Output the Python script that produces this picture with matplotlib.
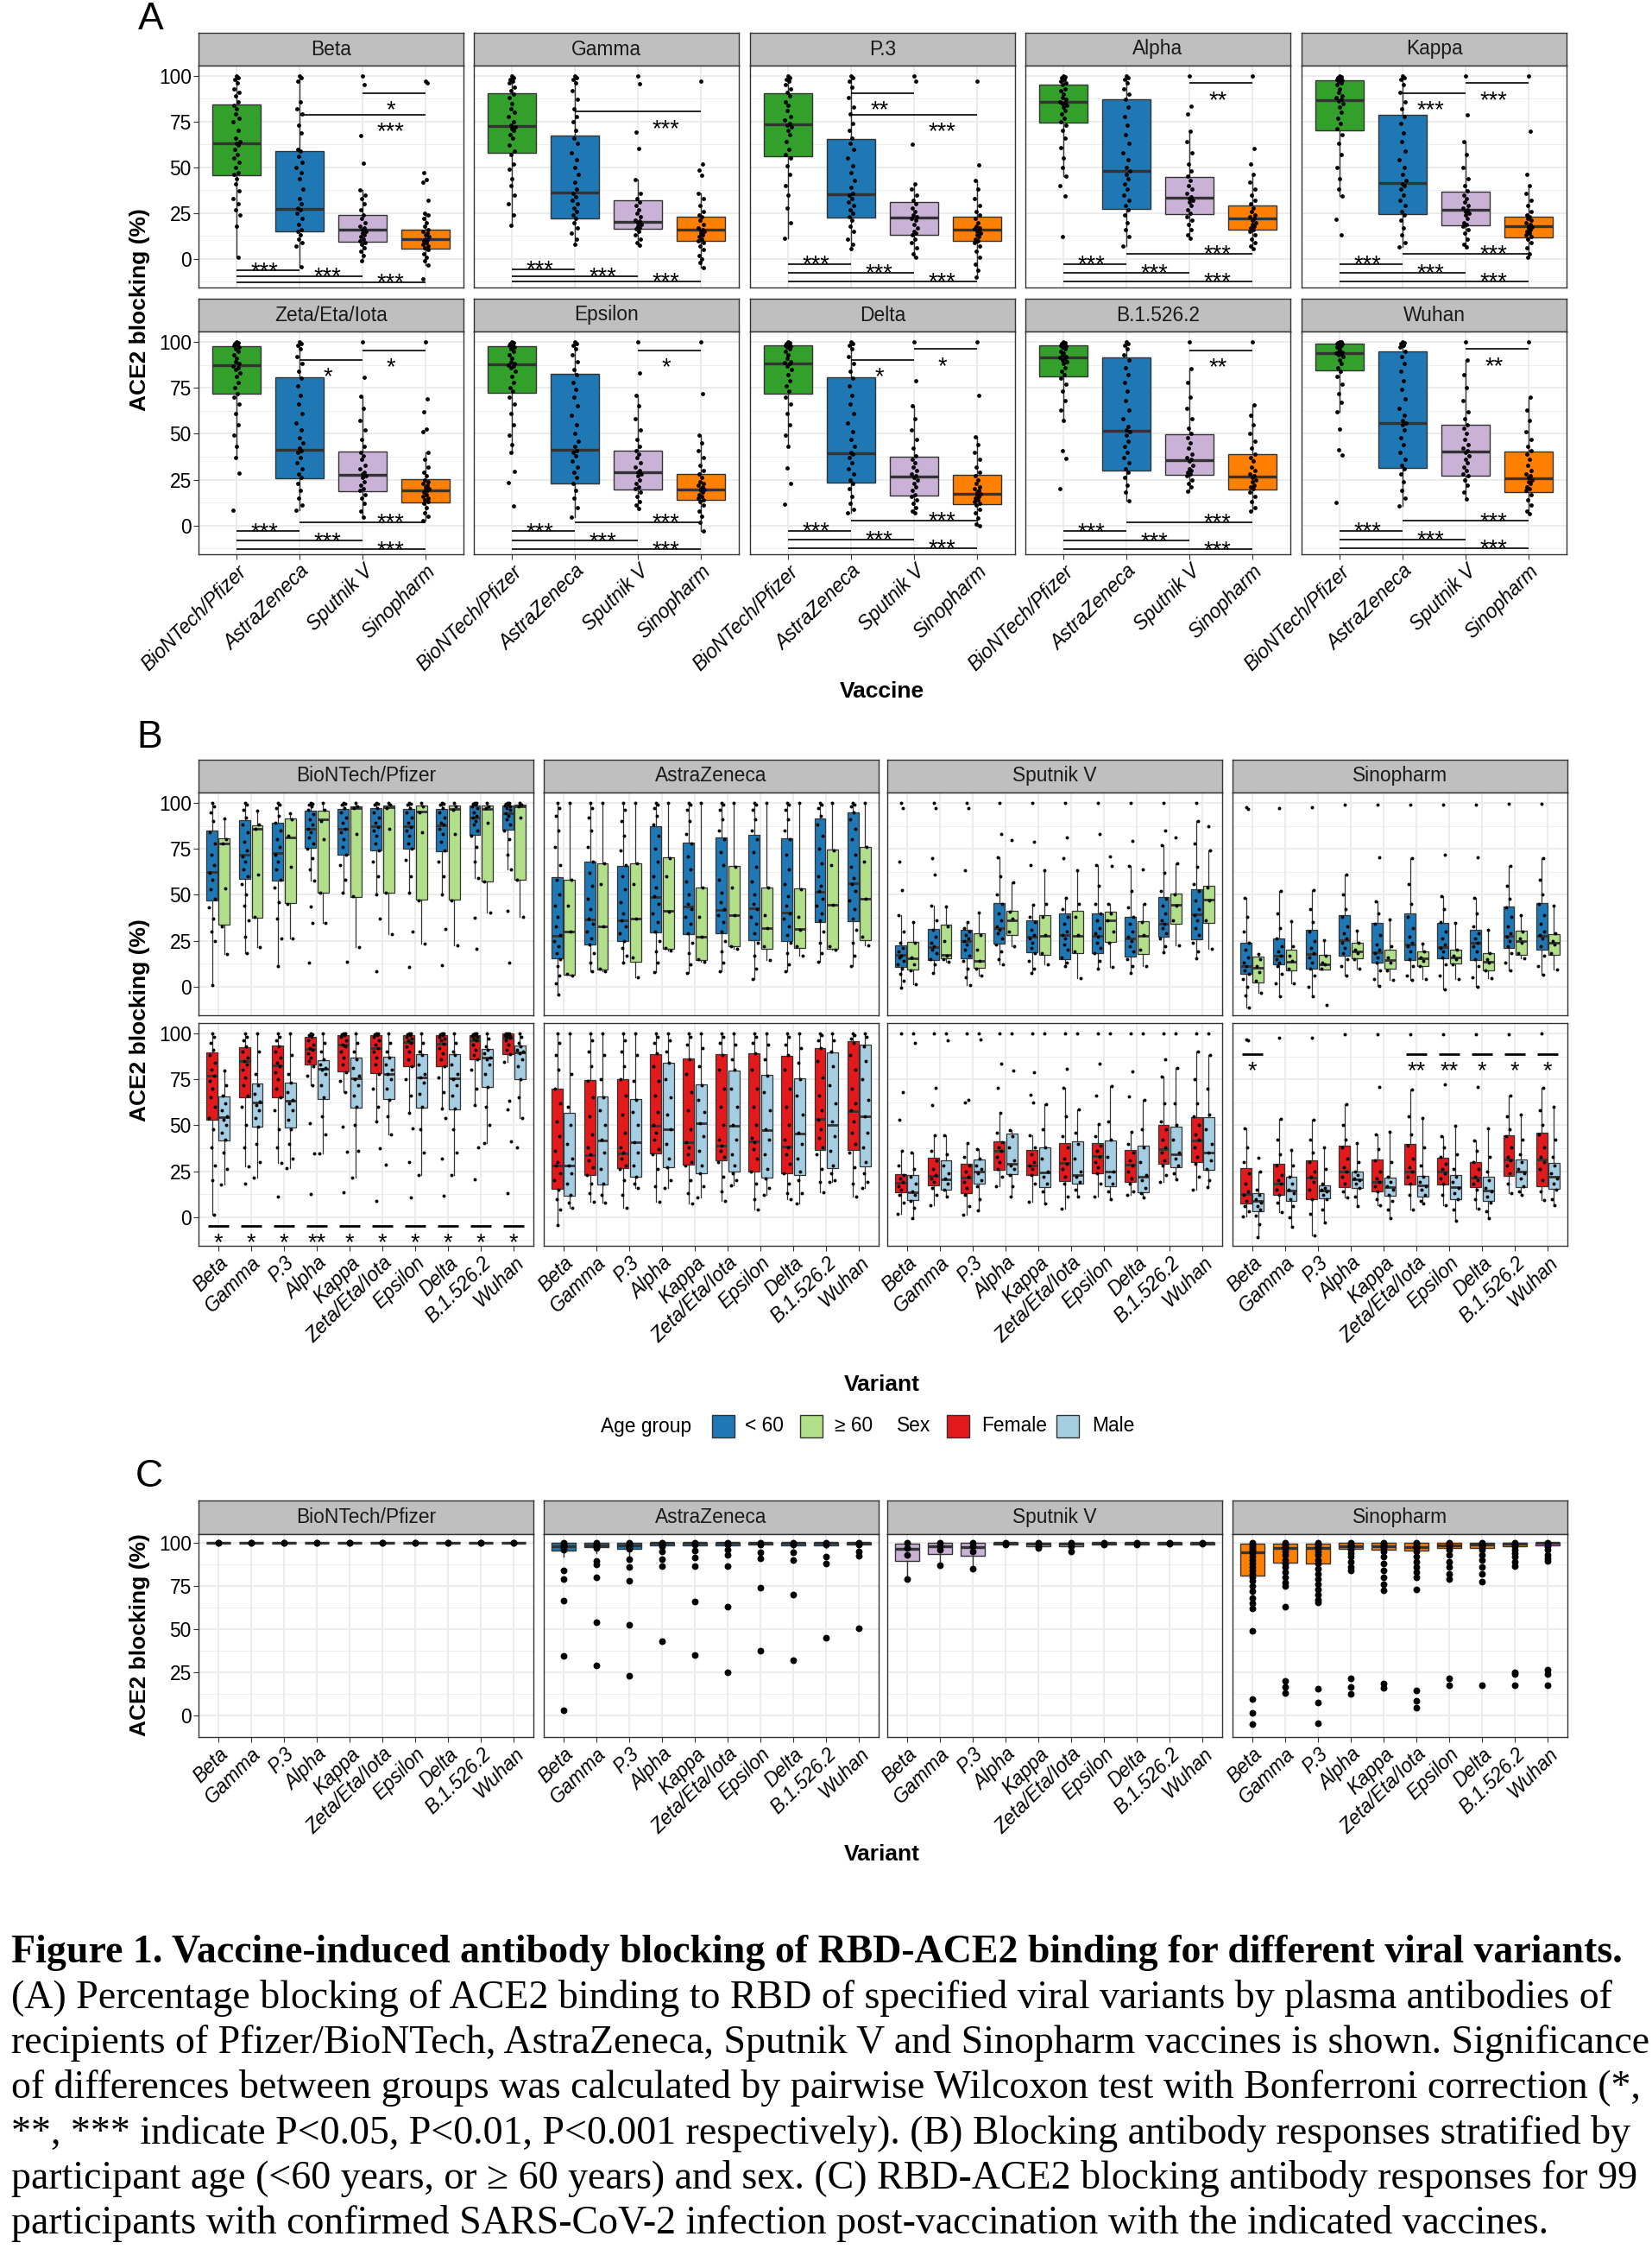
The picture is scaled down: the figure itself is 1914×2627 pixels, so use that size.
import matplotlib
matplotlib.use("Agg")
import matplotlib.pyplot as plt
from matplotlib.patches import Rectangle

plt.rcParams['font.family'] = ['Liberation Sans', 'DejaVu Sans']

W, H = 1914, 2627
EDGE = '#333333'
GRID = '#EBEBEB'
STRIP = '#BFBFBF'

VARIANTS = ["Beta", "Gamma", "P.3", "Alpha", "Kappa", "Zeta/Eta/Iota",
            "Epsilon", "Delta", "B.1.526.2", "Wuhan"]
VACCINES = ["BioNTech/Pfizer", "AstraZeneca", "Sputnik V", "Sinopharm"]
VACCINE_COLORS = ["#33A02C", "#1F78B4", "#CAB2D6", "#FF7F00"]
AGE_LABELS = ["< 60", "\u2265 60"]
AGE_COLORS = ["#1F78B4", "#B2DF8A"]
SEX_LABELS = ["Female", "Male"]
SEX_COLORS = ["#E31A1C", "#A6CEE3"]

# ---------------- Panel A: box stats [whislo, q1, median, q3, whishi] per vaccine
a_box_beta = [[1, 45.5, 63, 84.5, 100], [-4.4, 15.2, 27.5, 59, 100], [-0.8, 9.4, 16.2, 24.2, 37.7], [-3.3, 5.8, 10.8, 16, 25]]
a_box_gamma = [[18.4, 58.1, 72.7, 90.3, 100], [8.2, 22, 36.1, 67.5, 100], [7.4, 16.3, 20.4, 31.9, 43.2], [-4.7, 10, 16, 23.2, 36]]
a_box_p3 = [[11.3, 56, 73.3, 90.6, 100], [5.5, 22.4, 35.3, 65.5, 100], [1, 13.3, 22.4, 30.9, 40.8], [-9.8, 10, 16.2, 23.2, 43]]
a_box_alpha = [[45, 74.7, 85.6, 95.4, 100], [7.1, 27.3, 48.2, 87.4, 100], [11.3, 24.6, 33.4, 44.7, 69.9], [5.5, 16.2, 22, 29, 46.3]]
a_box_kappa = [[34.5, 70.3, 86.8, 97.8, 100], [6.6, 24.6, 41.6, 78.5, 100], [6.6, 18.5, 26.7, 36.9, 64], [0.8, 11.8, 17.7, 23.1, 40]]
a_box_zeta = [[37, 71.7, 87.1, 97.6, 100], [8.3, 25.7, 41.4, 80.8, 100], [4.4, 18.9, 27.7, 40.3, 70.6], [2.8, 12.8, 19.2, 25.4, 40]]
a_box_epsilon = [[39.8, 72.4, 87.6, 97.8, 100], [4.4, 23.1, 41.1, 82.4, 100], [9.1, 19.4, 28.8, 40.6, 70.9], [-2.7, 13.9, 19.7, 28.3, 49.3]]
a_box_delta = [[43, 71.8, 88.2, 98, 100], [6.8, 23.6, 39.4, 80.5, 100], [6.8, 16.5, 26.8, 37.5, 65], [-0.3, 11.5, 17.5, 27.6, 48.5]]
a_box_b1526 = [[57, 81.3, 91.3, 98, 100], [13.4, 29.9, 51.7, 91.3, 100], [18.6, 27.6, 35.6, 49.6, 85.5], [7.9, 19.7, 26.5, 38.7, 65.8]]
a_box_wuhan = [[62, 84.3, 93.9, 98.9, 100], [10.7, 31.2, 55.9, 94.6, 100], [14.3, 27.2, 40.3, 54.8, 90.2], [6.3, 18.3, 25.7, 40.2, 69.8]]

# Panel A: individual participants (read approx.)
a_pts_beta = [
    [100, 99, 98, 96, 93, 91, 89, 86, 84, 82, 79, 77, 75, 70, 66, 64, 63, 62, 60, 57, 55, 53, 50, 47, 46, 44, 41, 37, 33, 30, 27, 24, 18, 1],
    [100, 99, 97, 86, 82, 79, 73, 69, 60, 59, 56, 53, 50, 47, 44, 38, 33, 30, 28, 27, 25, 22, 19, 16, 15, 13, 11, 9, 7, -4.4],
    [100, 95, 67.5, 52.5, 37.7, 35, 33, 30, 27, 24, 22, 20, 18, 17, 16, 15, 14, 13, 12, 11, 10, 9, 8, 6, 4, 2, -0.8],
    [97, 96, 47, 43.5, 42, 32.2, 25, 24, 22, 20, 18, 16, 15, 14, 13, 12, 11, 10.5, 10, 9, 8, 7, 6, 5, 3, 1, -1, -3.3, -10.8]]
a_pts_gamma = [
    [100, 99, 98, 97, 96, 94, 92, 90, 88, 85, 82, 80, 78, 75, 73, 72, 71, 70, 68, 66, 62, 59, 57, 52, 49, 44, 40, 35, 30, 24, 18.4],
    [100, 99, 98, 96, 92, 87, 82, 78, 75, 70, 66, 63, 58, 54, 50, 46, 42, 38, 36, 34, 32, 30, 28, 26, 24, 22, 20, 17, 14, 11, 8.2],
    [100, 95.8, 69.2, 60.4, 43.2, 36, 33, 31, 29, 27, 25, 23, 21, 20.5, 20, 19, 18, 17, 16.5, 15, 13, 11, 9, 7.4],
    [97, 52, 48.7, 45.5, 36, 33, 29, 26, 24, 23, 21, 19, 17, 16, 15.5, 15, 14, 13, 12, 11, 10, 9, 7, 5, 2, 0, -2, -4.7]]
a_pts_p3 = [
    [100, 99, 98, 97, 95, 93, 91, 89, 86, 84, 81, 78, 76, 74, 73, 72, 70, 68, 64, 60, 57, 55, 51, 46, 40, 35, 28, 20, 11.3],
    [100, 99, 97, 94, 88, 83, 79, 74, 70, 66, 63, 60, 55, 51, 47, 43, 39, 36, 35, 33, 31, 29, 27, 25, 23, 21, 18, 15, 11, 8, 5.5],
    [100, 97, 62.8, 40.8, 38, 35, 32, 30, 28, 26, 24, 23, 22, 21, 19, 17, 15, 14, 13, 11, 9, 6, 3, 1],
    [97, 51.5, 43, 38, 33, 29, 26, 24, 22, 20, 18, 17, 16.5, 16, 15, 14, 13, 12, 11, 10, 9, 7, 4, 1, -3, -6, -9.8]]
a_pts_alpha = [
    [100, 99.5, 99, 98, 97, 96, 95, 93, 92, 90, 88, 87, 86, 85.5, 85, 84, 83, 81, 79, 77, 75, 73, 70, 66, 61, 55, 50, 45, 40, 34.5, 12.2],
    [100, 99, 98, 96, 93, 90, 87, 83, 78, 73, 68, 63, 58, 54, 50, 48, 46, 44, 41, 38, 35, 32, 29, 27, 24, 20, 16, 12, 7.1],
    [100, 83.2, 79.3, 69.9, 64, 58, 52, 48, 45, 43, 40, 38, 36, 34, 33, 32, 31, 29, 27, 25, 23, 21, 19, 16, 13, 11.3],
    [100, 60.4, 52, 46.3, 42, 38, 35, 32, 30, 28, 26, 24, 23, 22, 21, 20, 19, 18, 17, 16, 15, 13, 11, 9, 7, 5.5]]
a_pts_kappa = [
    [100, 99.5, 99, 98.5, 98, 97.5, 97, 96, 95, 93, 91, 89, 88, 87, 86.5, 85, 83, 80, 77, 74, 71, 68, 63, 57, 50, 44, 38, 34.5, 21.7, 13.3],
    [100, 99, 98, 95, 91, 86, 82, 78, 74, 69, 64, 59, 54, 50, 46, 43, 41, 40, 38, 35, 32, 29, 26, 24, 21, 17, 13, 9, 6.6],
    [100, 78.8, 64, 57, 50, 44, 40, 37, 35, 33, 31, 29, 28, 27, 26, 25, 24, 22, 20, 19, 18, 16, 14, 11, 8, 6.6],
    [100, 69.9, 46.3, 40, 36, 32, 29, 26, 24, 23, 22, 21, 20, 19, 18, 17.5, 17, 16, 15, 14, 13, 12, 11, 9, 6, 3, 0.8]]
a_pts_zeta = [
    [100, 99.5, 99, 98.5, 98, 97, 96, 95, 93, 91, 89, 88, 87, 86, 85, 83, 81, 78, 75, 72, 70, 66, 61, 55, 49, 43, 37, 28.7, 8.2],
    [100, 99, 98, 96, 92, 88, 84, 80, 76, 71, 66, 61, 56, 52, 48, 45, 42, 41, 40, 37, 34, 31, 28, 26, 23, 19, 15, 11, 8.3],
    [100, 80.8, 70.6, 64, 57, 52, 47, 43, 40, 38, 36, 33, 31, 29, 28, 27, 26, 24, 22, 20, 19, 17, 15, 12, 8, 4.4],
    [100, 69, 61.9, 52.4, 50.9, 40, 36, 32, 29, 27, 25, 24, 23, 22, 21, 20, 19.5, 19, 18, 17, 16, 15, 14, 13, 12, 10, 7, 5, 2.8]]
a_pts_epsilon = [
    [100, 99.5, 99, 98.5, 98, 97, 96, 95, 93, 91, 89, 88, 87.5, 87, 86, 84, 81, 78, 75, 73, 70, 66, 61, 55, 49, 44, 39.8, 29.6, 23.3, 10.7],
    [100, 99, 98, 96, 93, 89, 85, 82, 78, 74, 70, 65, 60, 55, 50, 46, 43, 41, 40, 38, 35, 32, 29, 26, 23, 19, 15, 10, 4.4],
    [100, 83.1, 70.9, 65, 58, 52, 47, 43, 41, 39, 37, 34, 32, 30, 29, 28, 27, 25, 23, 21, 20, 18, 16, 13, 11, 9.1],
    [100, 71.7, 49.3, 45, 41, 37, 33, 30, 28, 26, 24, 23, 22, 21, 20, 19.5, 19, 18, 17, 16, 15, 14, 13, 11, 8, 5, 2, -2.7]]
a_pts_delta = [
    [100, 99.5, 99, 98.5, 98, 97.5, 97, 96, 95, 93, 91, 89, 88.5, 88, 87, 85, 82, 79, 76, 73, 70, 66, 61, 55, 49, 43, 31.5, 23, 11.5],
    [100, 99, 98, 96, 92, 88, 84, 80, 76, 71, 66, 61, 56, 51, 47, 43, 40, 39, 37, 34, 31, 28, 25, 23, 20, 16, 12, 9, 6.8],
    [100, 78.7, 65, 58, 52, 47, 42, 38, 36, 34, 32, 30, 28, 27, 26, 25, 23, 21, 19, 17, 16, 14, 12, 10, 8, 6.8],
    [100, 70.9, 48.5, 44, 40, 36, 32, 29, 27, 25, 23, 21, 20, 19, 18, 17.5, 17, 16, 15, 14, 13, 12, 11, 9, 7, 4, 1, -0.3]]
a_pts_b1526 = [
    [100, 99.5, 99, 98.5, 98, 97.5, 97, 96, 95, 94, 93, 92, 91.5, 91, 90, 89, 88, 86, 84, 82, 80, 77, 73, 68, 63, 57, 41, 36.7, 20.2],
    [100, 99, 98, 96, 93, 90, 86, 82, 78, 73, 68, 63, 58, 54, 52, 51, 49, 46, 43, 40, 37, 34, 31, 29, 26, 22, 18, 13.4],
    [100, 85.5, 78, 70, 64, 58, 53, 50, 48, 45, 42, 39, 37, 36, 35, 33, 31, 30, 29, 28, 27, 25, 23, 21, 18.6],
    [100, 65.8, 60, 55, 50, 46, 42, 39, 37, 35, 32, 30, 28, 27, 26, 25, 24, 22, 21, 20, 18, 16, 13, 10, 7.9]]
a_pts_wuhan = [
    [100, 99.8, 99.5, 99.2, 99, 98.8, 98.5, 98, 97, 96, 95, 94.5, 94, 93.5, 93, 92, 90, 88, 86, 84, 81, 77, 72, 67, 62, 52.4, 41.4, 38.3, 12.8],
    [100, 99.5, 99, 98, 97, 95, 92, 88, 84, 79, 74, 69, 64, 60, 57, 56, 55, 52, 48, 44, 40, 36, 33, 31, 28, 24, 19, 15, 10.7],
    [100, 90.2, 82, 75, 68, 62, 58, 55, 53, 50, 47, 44, 42, 41, 40, 38, 36, 34, 32, 30, 28, 27, 25, 22, 18, 14.3],
    [100, 69.8, 63, 57, 51, 47, 43, 41, 39, 36, 33, 30, 28, 27, 26, 25, 24, 23, 21, 20, 19, 17, 14, 11, 8, 6.3]]

# Panel A: pairwise tests (group i, group j, bracket level, label)
a_sig_beta = [(2, 3, 90.6, "*"), (1, 3, 78.8, "***"), (0, 1, -6.3, "***"), (0, 2, -9.4, "***"), (0, 3, -12.6, "***")]
a_sig_gamma = [(1, 3, 80.4, "***"), (0, 1, -5.5, "***"), (0, 2, -9.4, "***"), (0, 3, -12.2, "***")]
a_sig_p3 = [(1, 2, 90.6, "**"), (1, 3, 78.8, "***"), (0, 1, -2.7, "***"), (0, 2, -7.5, "***"), (0, 3, -12.2, "***")]
a_sig_alpha = [(2, 3, 96, "**"), (1, 3, 2.7, "***"), (0, 1, -2.7, "***"), (0, 2, -7.5, "***"), (0, 3, -12.2, "***")]
a_sig_kappa = [(2, 3, 96, "***"), (1, 2, 90.6, "***"), (1, 3, 2.7, "***"), (0, 1, -2.7, "***"), (0, 2, -7.5, "***"), (0, 3, -12.2, "***")]
a_sig_zeta = [(2, 3, 95.3, "*"), (1, 2, 90.2, "*"), (1, 3, 2, "***"), (0, 1, -3.1, "***"), (0, 2, -8.2, "***"), (0, 3, -12.9, "***")]
a_sig_epsilon = [(2, 3, 95.3, "*"), (1, 3, 2, "***"), (0, 1, -3.1, "***"), (0, 2, -8.2, "***"), (0, 3, -12.9, "***")]
a_sig_delta = [(2, 3, 96, "*"), (1, 2, 90.2, "*"), (1, 3, 2.8, "***"), (0, 1, -2.7, "***"), (0, 2, -7.7, "***"), (0, 3, -12.4, "***")]
a_sig_b1526 = [(2, 3, 95.3, "**"), (1, 3, 2, "***"), (0, 1, -3.1, "***"), (0, 2, -8.2, "***"), (0, 3, -12.9, "***")]
a_sig_wuhan = [(2, 3, 96, "**"), (1, 3, 2.5, "***"), (0, 1, -2.7, "***"), (0, 2, -7.7, "***"), (0, 3, -12.4, "***")]

# ---------------- Panel B: per variant [group1 stats, group2 stats]
b_age_pfizer = [
    [[0.8, 47.1, 62.6, 85.1, 100], [17.6, 33.8, 78, 80.8, 91.7]],
    [[18, 58.4, 71.7, 90.6, 100], [21.5, 37.7, 85.9, 87.8, 95.6]],
    [[11.3, 57.6, 72.5, 89, 100], [26.2, 45.5, 81.2, 91.5, 94.5]],
    [[57.6, 75.7, 85.9, 95.8, 100], [34.9, 51.3, 91, 95.8, 100]],
    [[51, 71.7, 85.9, 96.9, 100], [21.5, 48.7, 97.3, 98.1, 100]],
    [[50, 74.1, 87.4, 97.3, 100], [28.6, 51.3, 97.6, 98.4, 100]],
    [[51, 75.2, 87.4, 96.9, 100], [23.4, 47.4, 95.3, 98.4, 100]],
    [[50, 73.8, 87.9, 96.9, 100], [22.3, 47.4, 96.9, 98.4, 100]],
    [[59, 82.7, 92.2, 98.4, 100], [40.3, 57.1, 96.9, 98.4, 100]],
    [[64, 85.4, 94.5, 98.7, 100], [38, 58.1, 98.1, 99.2, 100]]]
b_age_astrazeneca = [
    [[-4.4, 15.5, 27.8, 59.5, 100], [5.8, 6.6, 30.1, 58.1, 100]],
    [[8.2, 23.1, 36.4, 67.8, 100], [8.2, 9.3, 33, 67.3, 100]],
    [[12.9, 24.6, 35.9, 65.9, 100], [5, 13.3, 37.2, 67.3, 100]],
    [[7.8, 29.7, 48.7, 87.4, 100], [19.5, 20.4, 41.1, 70.6, 100]],
    [[7.4, 28.6, 43.8, 78.5, 100], [13.7, 14.4, 27, 54, 100]],
    [[8.5, 29, 41.9, 81.2, 100], [20.7, 22, 38.8, 65.5, 100]],
    [[4.2, 25.4, 42.7, 82.7, 100], [14.4, 20.7, 31.7, 54, 100]],
    [[8.2, 24.6, 40.3, 80.8, 100], [16.8, 21.2, 31.2, 53.4, 100]],
    [[13.7, 35.3, 51.8, 91.7, 100], [19.9, 20.4, 44.6, 74.6, 100]],
    [[11.3, 35.6, 56.5, 94.8, 100], [22.3, 25.4, 47.7, 76, 100]]]
b_age_sputnik = [
    [[-0.5, 10.5, 17.1, 22.6, 38.8], [1.4, 9.4, 15.5, 24.2, 35.3]],
    [[7.4, 14.4, 21.5, 31.2, 44], [13.7, 15.2, 17.1, 33.8, 43.8]],
    [[0.8, 15.5, 25, 30.9, 35.3], [6.1, 10.2, 14, 28.9, 40.3]],
    [[12.1, 23.4, 31.7, 45.4, 70.5], [21.8, 28.3, 36.1, 41.4, 56.8]],
    [[7.4, 18.7, 27, 35.9, 44.3], [12.1, 17.1, 27.8, 38.8, 63.1]],
    [[11.3, 14.9, 28.1, 39.6, 48.2], [4.7, 18.1, 27.8, 41.1, 63.1]],
    [[9.7, 18.4, 27.8, 40, 66.2], [10.5, 24.3, 35.9, 40.8, 45]],
    [[7.4, 16.5, 26.2, 38, 65.5], [11.3, 17.6, 27.8, 35.6, 45]],
    [[18.7, 27, 34.1, 48.7, 76.8], [22.3, 34.1, 44.3, 50.5, 67]],
    [[15.2, 25.9, 39.2, 53.2, 90.1], [20.7, 34.9, 47.4, 54.8, 74.1]]]
b_age_sinopharm = [
    [[-11.5, 7.1, 11.3, 23.9, 48.2], [-3.6, 2.4, 10.2, 16.5, 17.6]],
    [[-5.2, 12.1, 16.8, 26.2, 52.1], [1.9, 8.6, 13.7, 20.3, 35.6]],
    [[-5.2, 9.7, 17.6, 30.9, 52.4], [9.3, 9.3, 12.1, 17.1, 25.4]],
    [[5.8, 16.8, 25.4, 38.8, 61], [9.7, 15.5, 19.2, 23.9, 30.6]],
    [[0.3, 12.9, 18.7, 34.9, 46.3], [3.5, 9.7, 14.4, 20.3, 36.4]],
    [[3.5, 14.4, 23.1, 39.9, 69.9], [4.2, 11, 15.2, 19.2, 23.4]],
    [[-1.3, 15.2, 21.5, 34.9, 49.3], [4.2, 12.4, 16, 19.9, 34.9]],
    [[0, 14.4, 23.9, 30.9, 48.2], [4.6, 8.6, 13.7, 18.1, 30.9]],
    [[8.9, 21.2, 27.8, 43.8, 65.5], [15.5, 17.1, 24.6, 30.5, 39.1]],
    [[6.6, 19.9, 27.8, 45.4, 69.7], [9.3, 17.1, 23.9, 28.6, 44]]]

b_sex_pfizer = [
    [[1.1, 52.9, 76.9, 89.8, 100], [17.6, 41.9, 54.2, 65.9, 79.6]],
    [[27.8, 65.1, 84.8, 92.6, 100], [21.5, 49, 62.3, 72.5, 100]],
    [[29.4, 65, 82.7, 93.2, 100], [26.7, 48.7, 63.1, 73.3, 100]],
    [[71.7, 83.2, 91.4, 98, 100], [34.9, 64.2, 80.8, 85.6, 100]],
    [[67.8, 79.3, 93.7, 99.2, 100], [21.5, 59.7, 75.4, 86.7, 100]],
    [[52.1, 78.5, 92.2, 99.2, 100], [45.1, 64.2, 78, 87.4, 100]],
    [[56.8, 81.9, 95.3, 99.2, 100], [23.1, 59.7, 76.1, 88.5, 100]],
    [[59.2, 82.3, 94.5, 99.2, 100], [23.1, 58.7, 75.4, 88.5, 100]],
    [[60.8, 85.9, 96.1, 99.2, 100], [40.3, 71, 86.7, 91.4, 100]],
    [[84.3, 88.5, 97.6, 100, 100], [53.7, 74.9, 89.8, 93.2, 100]]]
b_sex_astrazeneca = [
    [[-4.4, 15.2, 28.1, 69.7, 100], [5, 11.6, 28.1, 56.8, 100]],
    [[8.2, 22.8, 33.8, 74.4, 100], [7.8, 17.6, 41.9, 65.5, 100]],
    [[5, 26.7, 34.5, 75.2, 100], [15.7, 22, 40.8, 64.4, 100]],
    [[8.2, 34.5, 49.8, 88.7, 100], [16, 27.3, 47.9, 83.8, 100]],
    [[7.4, 28.6, 40.8, 86.2, 100], [10.5, 23.9, 51, 72.1, 100]],
    [[8.9, 30.9, 39.1, 88.5, 100], [17.1, 24.6, 49.8, 79.9, 100]],
    [[4.2, 24.6, 41.1, 89, 100], [12.1, 21.5, 47.4, 77.6, 100]],
    [[9.7, 23.9, 38.5, 87.8, 100], [7.4, 22.8, 45.5, 75.4, 100]],
    [[13.7, 36.7, 53.4, 92.2, 100], [19.2, 26.7, 50.2, 89.8, 100]],
    [[11.3, 36.7, 57.9, 95.8, 100], [16, 27.8, 54.8, 93.7, 100]]]
b_sex_sputnik = [
    [[1.9, 13.7, 18.7, 23.5, 36], [-0.8, 9.3, 13.7, 23.1, 35.2]],
    [[6.6, 17.1, 22.3, 32.2, 44.3], [11.3, 14.9, 20.7, 30.9, 44.3]],
    [[1.1, 12.9, 21.5, 29, 40.3], [3.5, 18.1, 25, 31.2, 37.2]],
    [[16.8, 25.9, 36, 41.1, 56.8], [11.3, 23.4, 29, 45.5, 47.4]],
    [[8.2, 23.1, 28.1, 36.7, 44.3], [7.4, 16.5, 24.3, 38, 61.5]],
    [[4.6, 19.6, 29.4, 40.3, 70.2], [11.3, 18.1, 23.1, 41.4, 58.7]],
    [[11.3, 23.9, 33.3, 40.3, 50.5], [9.7, 16.8, 24.6, 41.9, 71.3]],
    [[12.1, 19.2, 28.6, 36.7, 46.6], [10.8, 13.7, 22, 38.8, 63.9]],
    [[19.2, 29, 37.2, 50.1, 76.5], [20.7, 27.3, 34.1, 49, 81.2]],
    [[14.8, 29.8, 41.6, 54.2, 90.1], [16.5, 25.7, 35.2, 54.2, 88.2]]]
b_sex_sinopharm = [
    [[0.3, 7.4, 12.4, 26.5, 48.2], [-10.7, 3.1, 8.9, 12.9, 24.6]],
    [[2.7, 12.1, 18.4, 29, 53.4], [-5.2, 8.9, 14.4, 21.8, 36.4]],
    [[-9.9, 9.7, 21.5, 30.9, 52.9], [-2.8, 10.2, 14.4, 17.1, 38]],
    [[10.5, 16.3, 24.6, 38.8, 61.5], [5.8, 16, 20.7, 24.6, 40.3]],
    [[6.6, 14, 19.2, 31.2, 45.1], [-0.5, 11.6, 16.5, 21.5, 46.6]],
    [[4.2, 17.6, 24.6, 39.6, 69.4], [7.4, 11.3, 17.1, 22.6, 53.7]],
    [[6.6, 17.6, 24.6, 32.5, 44], [-2, 10, 16.5, 22.8, 49.5]],
    [[4.6, 16.3, 21.5, 29.8, 41.9], [-0.5, 8.9, 14.4, 22, 48.5]],
    [[12.9, 22.3, 31.2, 44.6, 66.2], [12.1, 16.5, 24.6, 31.2, 56]],
    [[9.3, 16.8, 31.2, 45.8, 70.2], [6.6, 15.5, 21.8, 29.7, 60]]]

# Panel B: participants per variant [group1, group2]
b_age_pfizer_pts = [
    [[100, 98, 95, 90, 84, 78, 72, 66, 62, 58, 53, 48, 43, 37, 30, 25, 0.8], [91.7, 80, 78, 53.4, 33, 17.6]],
    [[100, 99, 96, 92, 88, 84, 79, 74, 71, 68, 64, 60, 56, 50, 44, 36, 27, 18], [95.6, 88, 86, 61, 38, 21.5]],
    [[100, 99, 97, 93, 89, 85, 80, 76, 72, 68, 64, 58, 54, 46, 37, 26, 11.3], [94.5, 91, 82, 65, 45, 26.2]],
    [[100, 99.5, 99, 98, 96, 94, 91, 88, 86, 84, 81, 78, 75, 70, 64, 57.6, 43.5, 34.9, 12.9], [100, 96, 90, 80, 51, 34.9]],
    [[100, 99.5, 99, 97, 95, 92, 89, 86, 84, 80, 76, 72, 66, 58, 51, 13.7], [100, 98, 97, 83, 49, 21.5]],
    [[100, 99.5, 99, 97, 95, 92, 89, 87, 85, 82, 78, 74, 68, 60, 50, 37.2, 8.2], [100, 99, 97, 86, 51, 28.6]],
    [[100, 99.5, 99, 97, 95, 92, 89, 87, 85, 82, 78, 75, 69, 60, 51, 29.8, 10.8], [100, 98, 95, 84, 47, 23.4]],
    [[100, 99.5, 99, 97, 95, 92, 89, 88, 86, 83, 79, 74, 68, 60, 50, 31.4, 11.6], [100, 98, 96, 83, 47, 22.3]],
    [[100, 99.8, 99.5, 99, 98, 97, 95, 93, 92, 90, 88, 85, 82, 76, 68, 59, 37.7, 20.4], [100, 98, 97, 89, 57, 40.3]],
    [[100, 99.8, 99.5, 99, 98.5, 98, 97, 96, 94.5, 93, 91, 88, 85, 80, 72, 64, 41.1, 12.9], [100, 99, 98, 92, 58, 38]]]
b_age_astrazeneca_pts = [
    [[100, 97, 93, 85, 76, 66, 58, 50, 44, 38, 33, 28, 25, 22, 18, 15, 11, 6, 2, -4.4], [100, 58, 44, 30, 7, 5.8]],
    [[100, 97, 92, 85, 76, 68, 62, 55, 48, 42, 37, 34, 30, 26, 23, 18, 13, 8.2], [100, 67, 56, 33, 10, 8.2]],
    [[100, 96, 90, 82, 74, 66, 60, 53, 46, 40, 36, 33, 29, 25, 21, 17, 12.9], [100, 67, 56, 37, 16, 5]],
    [[100, 99, 97, 93, 88, 82, 75, 68, 60, 54, 49, 45, 40, 35, 30, 25, 19, 13, 7.8], [100, 70, 60, 41, 21, 19.5]],
    [[100, 99, 96, 90, 83, 78, 71, 64, 57, 50, 45, 42, 38, 34, 29, 24, 18, 12, 7.4], [100, 54, 38, 27, 15, 13.7]],
    [[100, 99, 96, 91, 85, 80, 73, 66, 58, 51, 46, 42, 39, 35, 30, 25, 19, 13, 8.5], [100, 65, 54, 38.8, 22, 20.7]],
    [[100, 99, 96, 91, 85, 80, 73, 65, 57, 50, 45, 42, 38, 34, 29, 24, 17, 10, 4.2], [100, 54, 39, 31.7, 22, 14.4]],
    [[100, 99, 96, 91, 85, 80, 72, 64, 56, 49, 44, 40, 37, 33, 28, 24, 18, 12, 8.2], [100, 53, 38, 31, 22, 16.8]],
    [[100, 99, 97, 93, 88, 82, 75, 67, 60, 55, 52, 48, 44, 40, 36, 30, 24, 18, 13.7], [100, 74, 66, 44.6, 22, 19.9]],
    [[100, 99, 98, 95, 91, 86, 80, 72, 65, 59, 56, 52, 47, 42, 37, 31, 24, 17, 11.3], [100, 76, 68, 47.7, 27, 22.3]]]
b_age_sputnik_pts = [
    [[100, 97, 67.8, 52.6, 38.8, 30, 24, 21, 19, 17, 16, 14, 12, 10, 7, 3, -0.5], [35.3, 24, 16, 12, 9, 1.4]],
    [[100, 97, 69.9, 61, 44, 36, 31, 27, 24, 22, 20, 18, 15, 12, 7.4], [43.8, 33, 25, 17, 15, 13.7]],
    [[100, 97, 63.1, 35.3, 32, 30, 28, 26, 25, 23, 20, 17, 14, 10, 5, 0.8], [40.3, 28, 20, 14, 10, 6.1]],
    [[100, 83.2, 70.5, 60, 50, 45, 40, 36, 33, 31, 29, 26, 23, 19, 15, 12.1], [79.6, 56.8, 41, 37, 30, 21.8]],
    [[100, 78.8, 66.2, 44.3, 38, 35, 31, 28, 26, 24, 21, 18, 14, 10, 7.4], [63.1, 45, 38, 28, 18, 12.1]],
    [[100, 81.2, 69.9, 48.2, 42, 38, 34, 30, 28, 26, 23, 20, 16, 13, 11.3], [63.1, 45, 38, 28, 19, 4.7]],
    [[100, 83.2, 66.2, 55, 45, 40, 36, 32, 29, 27, 24, 21, 18, 14, 9.7], [71, 65.5, 45, 40, 36, 30, 24, 10.5]],
    [[100, 79.1, 65.5, 52, 43, 38, 34, 30, 27, 25, 22, 19, 15, 11, 7.4], [63.6, 45, 35, 28, 20, 11.3]],
    [[100, 85.1, 76.8, 62, 52, 48, 44, 40, 36, 34, 32, 29, 26, 22, 18.7], [81.2, 67, 50, 44, 36, 22.3]],
    [[100, 90.1, 78, 65, 56, 52, 47, 42, 39, 36, 32, 28, 24, 19, 15.2], [87.4, 74.1, 54, 47, 36, 20.7]]]
b_age_sinopharm_pts = [
    [[97.6, 96.5, 48.2, 38, 30, 24, 20, 16, 13, 11, 9, 7, 4, 0, -5, -11.5], [17.6, 15, 11, 8, 3, -3.6]],
    [[97.3, 52.1, 40, 32, 26, 22, 19, 17, 15, 13, 11, 7, 2, -5.2], [35.6, 22, 17, 14, 10, 1.9]],
    [[97.6, 52.4, 42, 35, 30, 25, 21, 18, 16, 13, 10, 6, 0, -5.2], [25.4, 17, 13, 12, 10, -9.9]],
    [[99.2, 61, 50, 42, 38, 33, 29, 26, 24, 21, 18, 15, 11, 5.8], [30.6, 24, 20, 18, 15, 9.7]],
    [[99.2, 70.2, 46.3, 40, 34, 28, 23, 20, 18, 16, 13, 9, 4, 0.3], [36.4, 22, 16, 13, 9, 3.5]],
    [[99.2, 69.9, 56, 45, 38, 32, 27, 24, 22, 19, 15, 11, 6, 3.5], [23.4, 19, 16, 14, 11, 4.2]],
    [[99.2, 71.7, 49.3, 42, 35, 30, 26, 23, 21, 19, 16, 12, 6, -1.3], [34.9, 20, 17, 15, 12, 4.2]],
    [[99.2, 70.5, 48.2, 40, 33, 29, 26, 24, 22, 19, 15, 11, 5, 0], [30.9, 18, 15, 13, 9, 4.6]],
    [[99.5, 65.5, 55, 48, 43, 38, 33, 29, 27, 25, 22, 18, 13, 8.9], [39.1, 30, 26, 24, 18, 15.5]],
    [[99.5, 69.7, 58, 50, 45, 39, 34, 30, 28, 26, 22, 17, 11, 6.6], [44, 29, 25, 23, 18, 9.3]]]

b_sex_pfizer_pts = [
    [[100, 98, 95, 91, 88, 84, 80, 77, 74, 70, 65, 60, 54, 48, 38, 28, 20, 1.1], [79.6, 72, 66, 62, 58, 55, 53, 50, 46, 42, 35, 26, 17.6]],
    [[100, 98, 96, 93, 90, 87, 85, 83, 80, 76, 72, 66, 60, 50, 38, 27.8, 18.4], [100, 90, 78, 72, 67, 63, 61, 58, 54, 49, 40, 30, 21.5]],
    [[100, 98, 96, 93, 90, 87, 84, 82, 79, 75, 70, 65, 58, 48, 38, 29.4, 11.3], [100, 88, 78, 73, 68, 64, 62, 58, 53, 48, 40, 32, 26.7]],
    [[100, 99.5, 99, 98, 96, 94, 92, 91, 89, 87, 85, 82, 77, 71.7, 51.3, 34.5, 12.6], [100, 95, 90, 86, 83, 81, 80, 78, 72, 65, 55, 45, 34.9]],
    [[100, 99.8, 99.5, 99, 98, 96, 94, 93, 90, 87, 83, 79, 74, 67.8, 49, 35.6, 13.7], [100, 95, 90, 86, 81, 77, 75, 72, 66, 60, 50, 36, 21.5]],
    [[100, 99.8, 99.5, 99, 98, 96, 94, 92, 90, 87, 83, 78, 70, 60, 52.1, 37.7, 8.6], [100, 95, 90, 87, 83, 80, 78, 75, 70, 64, 55, 45.1, 28.6]],
    [[100, 99.8, 99.5, 99, 98, 97, 96, 95, 93, 90, 86, 82, 75, 66, 56.8, 48.2, 30.1, 10.5], [100, 95, 90, 88, 83, 78, 76, 73, 67, 60, 48, 35, 23.1]],
    [[100, 99.8, 99.5, 99, 98, 97, 96, 94.5, 92, 89, 86, 82, 76, 68, 59.2, 53.7, 31.7, 11.8], [100, 95, 90, 88, 83, 78, 75, 72, 66, 59, 48, 35, 23.1]],
    [[100, 99.8, 99.5, 99, 98.5, 98, 97, 96, 94, 91, 88, 86, 80, 70, 60.8, 38, 20.4], [100, 97, 93, 91, 89, 87, 86, 83, 78, 71, 60, 50, 40.3]],
    [[100, 100, 99.8, 99.5, 99, 98.5, 98, 97.6, 96, 94, 91, 88.5, 84.3, 63.1, 58.4, 41.1, 12.9], [100, 98, 95, 93, 91, 90, 89, 86, 82, 75, 65, 53.7, 38]]]
b_sex_astrazeneca_pts = [
    [[100, 95, 88, 80, 70, 62, 52, 44, 36, 30, 28, 24, 20, 15, 10, 4, -4.4], [100, 78, 60, 50, 40, 32, 28, 24, 18, 12, 8, 5]],
    [[100, 96, 90, 82, 74, 65, 55, 45, 38, 34, 31, 27, 23, 18, 13, 8.2], [100, 88, 75, 65, 58, 50, 42, 35, 26, 18, 12, 7.8]],
    [[100, 96, 90, 82, 75, 66, 56, 46, 38, 35, 32, 28, 26, 20, 12, 5], [100, 88, 74, 64, 57, 50, 41, 35, 28, 22, 18, 15.7]],
    [[100, 98, 95, 89, 82, 74, 66, 57, 50, 46, 42, 37, 34, 26, 17, 8.2], [100, 96, 90, 84, 75, 65, 56, 48, 40, 32, 27, 20, 16]],
    [[100, 98, 94, 86, 78, 68, 58, 48, 41, 38, 34, 30, 28, 20, 13, 7.4], [100, 92, 82, 72, 64, 57, 51, 44, 36, 28, 24, 17, 10.5]],
    [[100, 98, 95, 88, 80, 70, 60, 50, 42, 39, 36, 33, 30, 22, 14, 8.9], [100, 94, 86, 80, 70, 60, 50, 42, 34, 28, 24, 20, 17.1]],
    [[100, 98, 95, 89, 80, 70, 60, 50, 43, 41, 37, 32, 25, 18, 10, 4.2], [100, 94, 86, 77, 68, 58, 48, 42, 34, 26, 21, 16, 12.1]],
    [[100, 98, 94, 88, 80, 70, 60, 50, 42, 38, 34, 29, 24, 18, 13, 9.7], [100, 92, 84, 75, 66, 56, 46, 40, 32, 25, 20, 13, 7.4]],
    [[100, 99, 96, 92, 85, 76, 66, 58, 53, 48, 43, 38, 34, 26, 19, 13.7], [100, 96, 90, 82, 72, 62, 52, 44, 36, 28, 24, 20, 19.2]],
    [[100, 99, 97, 95, 88, 80, 70, 62, 58, 52, 46, 40, 35, 27, 18, 11.3], [100, 98, 93, 85, 75, 64, 55, 46, 38, 30, 24, 19, 16]]]
b_sex_sputnik_pts = [
    [[100, 67.8, 52.9, 36, 28, 23, 21, 19, 17, 15, 12, 8, 1.9], [100, 95, 35.2, 26, 22, 18, 14, 12, 9, 5, -0.8]],
    [[100, 70.2, 61.1, 44.3, 36, 31, 26, 23, 21, 19, 16, 12, 6.6], [100, 96.1, 44.3, 34, 28, 24, 21, 18, 15, 11.3]],
    [[100, 63.9, 62.3, 40.3, 33, 28, 25, 22, 19, 16, 12, 6, 1.1], [100, 96.9, 37.2, 32, 28, 26, 24, 20, 17, 10, 3.5]],
    [[100, 83.5, 70.2, 56.8, 46, 41, 38, 36, 33, 30, 26, 22, 16.8], [100, 79.9, 47.4, 44, 38, 31, 28, 26, 23, 17, 11.3]],
    [[100, 78.8, 66.7, 62.6, 44.3, 38, 34, 30, 28, 26, 23, 18, 8.2], [100, 61.5, 48, 38, 32, 25, 22, 18, 14, 7.4]],
    [[100, 80.8, 70.2, 55, 44, 38, 32, 29, 26, 22, 18, 11, 4.6], [100, 58.7, 46, 40, 32, 25, 22, 19, 15, 11.3]],
    [[100, 83.5, 66.2, 50.5, 44, 39, 36, 33, 30, 27, 24, 18, 11.3], [100, 71.3, 52, 42, 33, 25, 22, 18, 14, 9.7]],
    [[100, 79.3, 65.5, 46.6, 40, 35, 31, 28, 25, 21, 18, 14, 12.1], [100, 63.9, 48, 38, 30, 23, 20, 16, 13, 10.8]],
    [[100, 85.9, 76.5, 62, 52, 48, 42, 38, 35, 31, 28, 23, 19.2], [100, 81.2, 62, 50, 42, 35, 32, 28, 24, 20.7]],
    [[100, 90.1, 75, 62, 55, 50, 45, 42, 38, 33, 29, 22, 14.8], [100, 88.2, 70, 56, 48, 40, 35, 31, 26, 20, 16.5]]]
b_sex_sinopharm_pts = [
    [[96.9, 96.1, 48.2, 38, 30, 24, 18, 14, 12, 9, 6, 3, 0.3], [32.5, 24.6, 15, 12, 10, 8, 6, 4, 1, -4, -10.7]],
    [[97.6, 53.4, 42, 34, 28, 23, 20, 18, 15, 12, 8, 2.7], [36.4, 28, 22, 18, 15, 13, 10, 6, 0, -5.2]],
    [[97.6, 52.9, 42, 35, 30, 25, 22, 19, 15, 10, 2, -9.9], [38, 26, 18, 16, 15, 14, 12, 10, 4, -2.8]],
    [[99.5, 61.5, 50, 42, 38, 32, 27, 25, 22, 18, 14, 10.5], [40.3, 30, 25, 23, 21, 20, 18, 16, 11, 5.8]],
    [[99.5, 71, 45.1, 37, 31, 25, 21, 19, 17, 14, 10, 6.6], [46.6, 30, 22, 19, 17, 15, 12, 9, 4, -0.5]],
    [[99.5, 69.4, 55, 45, 39, 32, 27, 25, 22, 18, 12, 4.2], [53.7, 38, 28, 22, 19, 17, 15, 12, 9, 7.4]],
    [[99.5, 72.1, 44, 38, 33, 29, 26, 24, 21, 18, 12, 6.6], [49.5, 34, 26, 22, 19, 16, 13, 10, 4, -2]],
    [[99.5, 71, 41.9, 36, 30, 26, 22, 20, 18, 15, 10, 4.6], [48.5, 33, 25, 20, 16, 14, 11, 8, 3, -0.5]],
    [[99.5, 66.2, 55, 48, 44, 38, 33, 31, 28, 24, 18, 12.9], [56, 42, 34, 30, 26, 24, 21, 17, 14, 12.1]],
    [[100, 70.2, 58, 50, 45, 38, 33, 30, 26, 20, 14, 9.3], [60, 42, 33, 28, 24, 21, 18, 15, 10, 6.6]]]

# Panel B: female vs male tests (per variant), bracket level
b_sex_pfizer_sig = ["*", "*", "*", "**", "*", "*", "*", "*", "*", "*"]
b_sex_pfizer_sig_y = -4.9
b_sex_sinopharm_sig = ["*", "", "", "", "", "**", "**", "*", "*", "*"]
b_sex_sinopharm_sig_y = 88.7

# ---------------- Panel C: breakthrough infections, per variant stats
c_box_pfizer = [[99.6, 99.7, 100, 100, 100]] * 10
c_box_astrazeneca = [[92, 95.6, 97.9, 100, 100], [94, 97.2, 98.4, 100, 100], [92, 96.4, 98.4, 100, 100],
                     [97, 98.4, 99.7, 100, 100], [97, 98.4, 99.7, 100, 100], [97, 98.4, 99.7, 100, 100],
                     [98, 98.7, 99.7, 100, 100], [97, 98.4, 99.7, 100, 100], [97, 98.4, 99.7, 100, 100],
                     [98, 98.7, 99.7, 100, 100]]
c_box_sputnik = [[79, 89.5, 96.4, 99.2, 100], [87, 93.5, 97.9, 99.7, 100], [85, 92.2, 97.2, 99.7, 100],
                 [98, 98.8, 99.7, 100, 100], [96, 98, 99.5, 100, 100], [95, 98, 99.5, 100, 100],
                 [98, 98.8, 99.7, 100, 100], [98, 98.8, 99.7, 100, 100], [98, 98.8, 99.7, 100, 100],
                 [98, 98.8, 99.7, 100, 100]]
c_box_sinopharm = [[62, 80.9, 94.3, 99.2, 100], [75, 88.2, 97.1, 99.2, 100], [70, 87.8, 96.8, 99.2, 100],
                   [92, 96.4, 97.9, 100, 100], [92, 96, 97.9, 100, 100], [92, 95.6, 97.6, 100, 100],
                   [95, 97, 98.4, 100, 100], [95, 97, 98.7, 100, 100], [97, 98, 99.4, 100, 100],
                   [98, 98.4, 99.7, 100, 100]]
c_pts_pfizer = [[100, 99.8]] * 10
c_pts_astrazeneca = [
    [100, 99, 98, 97, 96, 83.8, 78.9, 66.5, 34.4, 3.1], [100, 99, 98, 97, 89.5, 87.4, 79.7, 54.1, 29.2],
    [100, 99, 98, 97, 96.5, 90.3, 85.7, 78.1, 52.5, 23], [100, 99.5, 99, 98, 95.1, 90.3, 86.5, 42.9],
    [100, 99, 95.5, 91.6, 86.2, 66, 35.2], [100, 99, 95.9, 92.7, 86.2, 62.7, 25.1],
    [100, 99, 94.3, 91.1, 73.7, 37.6], [100, 99, 94.3, 89.8, 70, 31.9],
    [100, 99, 91.9, 87.8, 44.9], [100, 99, 95.1, 92.2, 50.2]]
c_pts_sputnik = [[100, 97, 93, 79], [100, 98, 96, 87], [100, 98, 95, 85], [100, 99], [100, 98, 96.8],
                 [100, 98, 95.1], [100, 99], [100, 99], [100, 99.5], [100, 99.5]]
c_pts_sinopharm = [
    [100, 99, 98, 97, 96, 95, 94, 92, 90, 88, 86, 84, 82, 80, 78, 75, 72, 68, 65, 61.9, 48.9, 9.6, 1.5, -5],
    [100, 99, 98, 97, 95, 93, 90, 88, 86, 83, 80, 77, 74.9, 62.7, 20.1, 16.5, 12.8],
    [100, 99, 98, 97, 95, 93, 90, 88, 85, 82, 79, 76, 73, 70, 67, 65.2, 15.7, 7.6, -4.5],
    [100, 99, 98, 97, 96, 94, 92, 89, 86, 83.8, 21.4, 16.5, 12.5],
    [100, 99, 98, 97, 95, 92, 88, 84, 80, 76, 72.4, 18.6, 16],
    [100, 99, 98, 97, 95, 92, 89, 86, 83, 80, 72.9, 14.4, 8.4, 4.4],
    [100, 99, 98, 96, 93, 89, 86, 82, 78.9, 21.4, 17.3],
    [100, 99, 98, 96, 93, 90, 86, 82, 77.3, 17.3],
    [100, 99, 98, 96, 94, 92, 89, 86.2, 25.1, 23.8, 17.7],
    [100, 99, 98, 96, 93, 91, 89.5, 26.3, 23.8, 17.7]]

CAPTION = [
    "Figure 1. Vaccine-induced antibody blocking of RBD-ACE2 binding for different viral variants.",
    "(A) Percentage blocking of ACE2 binding to RBD of specified viral variants by plasma antibodies of",
    "recipients of Pfizer/BioNTech, AstraZeneca, Sputnik V and Sinopharm vaccines is shown. Significance",
    "of differences between groups was calculated by pairwise Wilcoxon test with Bonferroni correction (*,",
    "**, *** indicate P<0.05, P<0.01, P<0.001 respectively). (B) Blocking antibody responses stratified by",
    "participant age (<60 years, or \u2265 60 years) and sex. (C) RBD-ACE2 blocking antibody responses for 99",
    "participants with confirmed SARS-CoV-2 infection post-vaccination with the indicated vaccines.",
]

A_BOXES = [a_box_beta, a_box_gamma, a_box_p3, a_box_alpha, a_box_kappa,
           a_box_zeta, a_box_epsilon, a_box_delta, a_box_b1526, a_box_wuhan]
A_POINTS = [a_pts_beta, a_pts_gamma, a_pts_p3, a_pts_alpha, a_pts_kappa,
            a_pts_zeta, a_pts_epsilon, a_pts_delta, a_pts_b1526, a_pts_wuhan]
A_SIGS = [a_sig_beta, a_sig_gamma, a_sig_p3, a_sig_alpha, a_sig_kappa,
          a_sig_zeta, a_sig_epsilon, a_sig_delta, a_sig_b1526, a_sig_wuhan]
B_AGE = [b_age_pfizer, b_age_astrazeneca, b_age_sputnik, b_age_sinopharm]
B_AGE_PTS = [b_age_pfizer_pts, b_age_astrazeneca_pts, b_age_sputnik_pts, b_age_sinopharm_pts]
B_SEX = [b_sex_pfizer, b_sex_astrazeneca, b_sex_sputnik, b_sex_sinopharm]
B_SEX_PTS = [b_sex_pfizer_pts, b_sex_astrazeneca_pts, b_sex_sputnik_pts, b_sex_sinopharm_pts]
B_SEX_SIG = [(b_sex_pfizer_sig, b_sex_pfizer_sig_y), None, None, (b_sex_sinopharm_sig, b_sex_sinopharm_sig_y)]
C_BOXES = [c_box_pfizer, c_box_astrazeneca, c_box_sputnik, c_box_sinopharm]
C_POINTS = [c_pts_pfizer, c_pts_astrazeneca, c_pts_sputnik, c_pts_sinopharm]

# layout in pixels
A_X0 = [230, 549, 869, 1188, 1508]
A_W = 307
A_ROWS = [(38, 76, 333), (346, 384, 642)]
B_X0 = [230, 630, 1028, 1428]
B_W = 388
B_ROWS = [(880, 918, 1176), (None, 1185, 1443)]
C_ROW = (1738, 1777, 2012)
YLIM_AB = (-15.6, 105.6)
YLIM_C = (-9.7, 104.9)
STAR_SIZE = 19.5

# fixed jitter pattern
JIT = [0.0, 0.55, -0.45, 0.3, -0.8, 0.9, -0.2, 0.65, -0.65, 0.15, -0.35, 0.8, -0.95, 0.45, -0.1, 1.0]

fig = plt.figure(figsize=(W / 100, H / 100), dpi=100)


def add_ax(x0, y0, x1, y1):
    return fig.add_axes([x0 / W, 1 - y1 / H, (x1 - x0) / W, (y1 - y0) / H])


def add_strip(x0, y0, x1, y1, text):
    ax = add_ax(x0, y0, x1, y1)
    ax.set_facecolor(STRIP)
    ax.set_xticks([])
    ax.set_yticks([])
    for s in ax.spines.values():
        s.set_color(EDGE)
        s.set_linewidth(1.0)
    ax.text(0.5, 0.5, text, ha='center', va='center', fontsize=16.4, color='#1A1A1A',
            transform=ax.transAxes)


def style_panel(ax, ncat, ylim, show_y, xlabels=None):
    ax.set_xlim(-0.6, ncat - 0.4)
    ax.set_ylim(*ylim)
    ax.set_xticks(range(ncat))
    ax.set_yticks([0, 25, 50, 75, 100])
    ax.set_yticks([-12.5, 12.5, 37.5, 62.5, 87.5], minor=True)
    ax.grid(which='major', color=GRID, lw=1.3)
    ax.grid(which='minor', axis='y', color=GRID, lw=0.6)
    ax.set_axisbelow(True)
    for s in ax.spines.values():
        s.set_color(EDGE)
        s.set_linewidth(1.0)
    ax.tick_params(which='minor', length=0)
    ax.tick_params(which='major', length=4, width=0.8, color=EDGE, labelsize=16.4,
                   labelcolor='black', pad=2)
    if show_y:
        ax.set_yticklabels(['0', '25', '50', '75', '100'])
    else:
        ax.tick_params(axis='y', left=False, labelleft=False)
    if xlabels:
        ax.set_xticklabels(xlabels, rotation=45, ha='right', va='top',
                           rotation_mode='anchor', style='italic')
    else:
        ax.tick_params(axis='x', bottom=False, labelbottom=False)


def draw_boxes(ax, positions, stats, colors, width, lw=1.0, medlw=2.4):
    bx = [dict(whislo=s[0], q1=s[1], med=s[2], q3=s[3], whishi=s[4], fliers=[]) for s in stats]
    art = ax.bxp(bx, positions=list(positions), widths=width, patch_artist=True,
                 showcaps=False, showfliers=False, manage_ticks=False,
                 boxprops=dict(edgecolor=EDGE, linewidth=lw),
                 whiskerprops=dict(color=EDGE, linewidth=lw),
                 medianprops=dict(color=EDGE, linewidth=medlw, solid_capstyle='butt'))
    for patch, c in zip(art['boxes'], colors):
        patch.set_facecolor(c)


def draw_points(ax, center, values, spread, size):
    xs = [center + spread * JIT[i % len(JIT)] for i in range(len(values))]
    ax.scatter(xs, values, s=size, color='black', linewidths=0, zorder=5)


def draw_brackets(ax, sigs):
    for x1, x2, y, lab in sigs:
        ax.plot([x1, x2], [y, y], color='black', lw=1.2, solid_capstyle='butt', zorder=6)
        ty = y - 13.0 if y > 50 else y - 4.0
        ax.text(x2 - 0.55, ty, lab, ha='center', va='baseline', fontsize=STAR_SIZE, zorder=7)


# ---------------- Panel A
for v in range(10):
    row, col = divmod(v, 5)
    x0 = A_X0[col]
    x1 = x0 + A_W
    sy0, py0, py1 = A_ROWS[row]
    add_strip(x0, sy0, x1, py0, VARIANTS[v])
    ax = add_ax(x0, py0, x1, py1)
    style_panel(ax, 4, YLIM_AB, col == 0, VACCINES if row == 1 else None)
    draw_boxes(ax, range(4), A_BOXES[v], VACCINE_COLORS, 0.76)
    for k in range(4):
        draw_points(ax, k, A_POINTS[v][k], 0.05, 12)
    draw_brackets(ax, A_SIGS[v])

# ---------------- Panel B
for j in range(4):
    x0 = B_X0[j]
    x1 = x0 + B_W
    for row in (0, 1):
        sy0, py0, py1 = B_ROWS[row]
        if row == 0:
            add_strip(x0, sy0, x1, py0, VACCINES[j])
        ax = add_ax(x0, py0, x1, py1)
        style_panel(ax, 10, YLIM_AB, j == 0, VARIANTS if row == 1 else None)
        boxes = B_AGE[j] if row == 0 else B_SEX[j]
        pts = B_AGE_PTS[j] if row == 0 else B_SEX_PTS[j]
        colors = AGE_COLORS if row == 0 else SEX_COLORS
        pos, stats, cols = [], [], []
        for i in range(10):
            for g in range(2):
                pos.append(i + (g - 0.5) * 0.375)
                stats.append(boxes[i][g])
                cols.append(colors[g])
        draw_boxes(ax, pos, stats, cols, 0.34, lw=0.9, medlw=2.0)
        for i in range(10):
            for g in range(2):
                draw_points(ax, i + (g - 0.5) * 0.375, pts[i][g], 0.1, 8)
        if row == 1 and B_SEX_SIG[j] is not None:
            labels, ly = B_SEX_SIG[j]
            for i, lab in enumerate(labels):
                if lab:
                    ax.plot([i - 0.32, i + 0.32], [ly, ly], color='black', lw=2.0,
                            solid_capstyle='butt', zorder=6)
                    ax.text(i, ly - 12.8, lab, ha='center', va='baseline', fontsize=STAR_SIZE, zorder=7)

# ---------------- Panel C
for j in range(4):
    x0 = B_X0[j]
    x1 = x0 + B_W
    sy0, py0, py1 = C_ROW
    add_strip(x0, sy0, x1, py0, VACCINES[j])
    ax = add_ax(x0, py0, x1, py1)
    style_panel(ax, 10, YLIM_C, j == 0, VARIANTS)
    draw_boxes(ax, range(10), C_BOXES[j], [VACCINE_COLORS[j]] * 10, 0.75)
    for i in range(10):
        draw_points(ax, i, C_POINTS[j][i], 0.0, 32)

# ---------------- labels
for letter, (lx, ly) in zip("ABC", [(175, 22), (173, 855), (173, 1710)]):
    fig.text(lx / W, 1 - ly / H, letter, fontsize=32, ha='center', va='center')

for yc in (359, 1182, 1894):
    fig.text(162 / W, 1 - yc / H, "ACE2 blocking (%)", rotation=90, ha='center', va='center',
             fontsize=19, fontweight='bold')
fig.text(1022 / W, 1 - 801 / H, "Vaccine", ha='center', va='center', fontsize=19, fontweight='bold')
fig.text(1022 / W, 1 - 1604 / H, "Variant", ha='center', va='center', fontsize=19, fontweight='bold')
fig.text(1022 / W, 1 - 2148 / H, "Variant", ha='center', va='center', fontsize=19, fontweight='bold')

# legend of panel B
LEG_Y = 1652


def legend_key(x, color):
    fig.add_artist(Rectangle((x / W, 1 - (LEG_Y + 13) / H), 26 / W, 26 / H, transform=fig.transFigure,
                             facecolor=color, edgecolor=EDGE, lw=1.0))


fig.text(696 / W, 1 - LEG_Y / H, "Age group", ha='left', va='center', fontsize=16.4)
legend_key(825, AGE_COLORS[0])
fig.text(863 / W, 1 - LEG_Y / H, AGE_LABELS[0], ha='left', va='center', fontsize=16.4)
legend_key(927, AGE_COLORS[1])
fig.text(967 / W, 1 - LEG_Y / H, AGE_LABELS[1], ha='left', va='center', fontsize=16.4)
fig.text(1039 / W, 1 - LEG_Y / H, "Sex", ha='left', va='center', fontsize=16.4)
legend_key(1097, SEX_COLORS[0])
fig.text(1137 / W, 1 - LEG_Y / H, SEX_LABELS[0], ha='left', va='center', fontsize=16.4)
legend_key(1224, SEX_COLORS[1])
fig.text(1265 / W, 1 - LEG_Y / H, SEX_LABELS[1], ha='left', va='center', fontsize=16.4)

# caption
for k, line in enumerate(CAPTION):
    fig.text(13 / W, 1 - (2262 + k * 52.3) / H, line, ha='left', va='center', fontsize=33,
             family=['Liberation Serif', 'DejaVu Serif'],
             fontweight='bold' if k == 0 else 'normal')

fig.savefig("out.png", dpi=100)
